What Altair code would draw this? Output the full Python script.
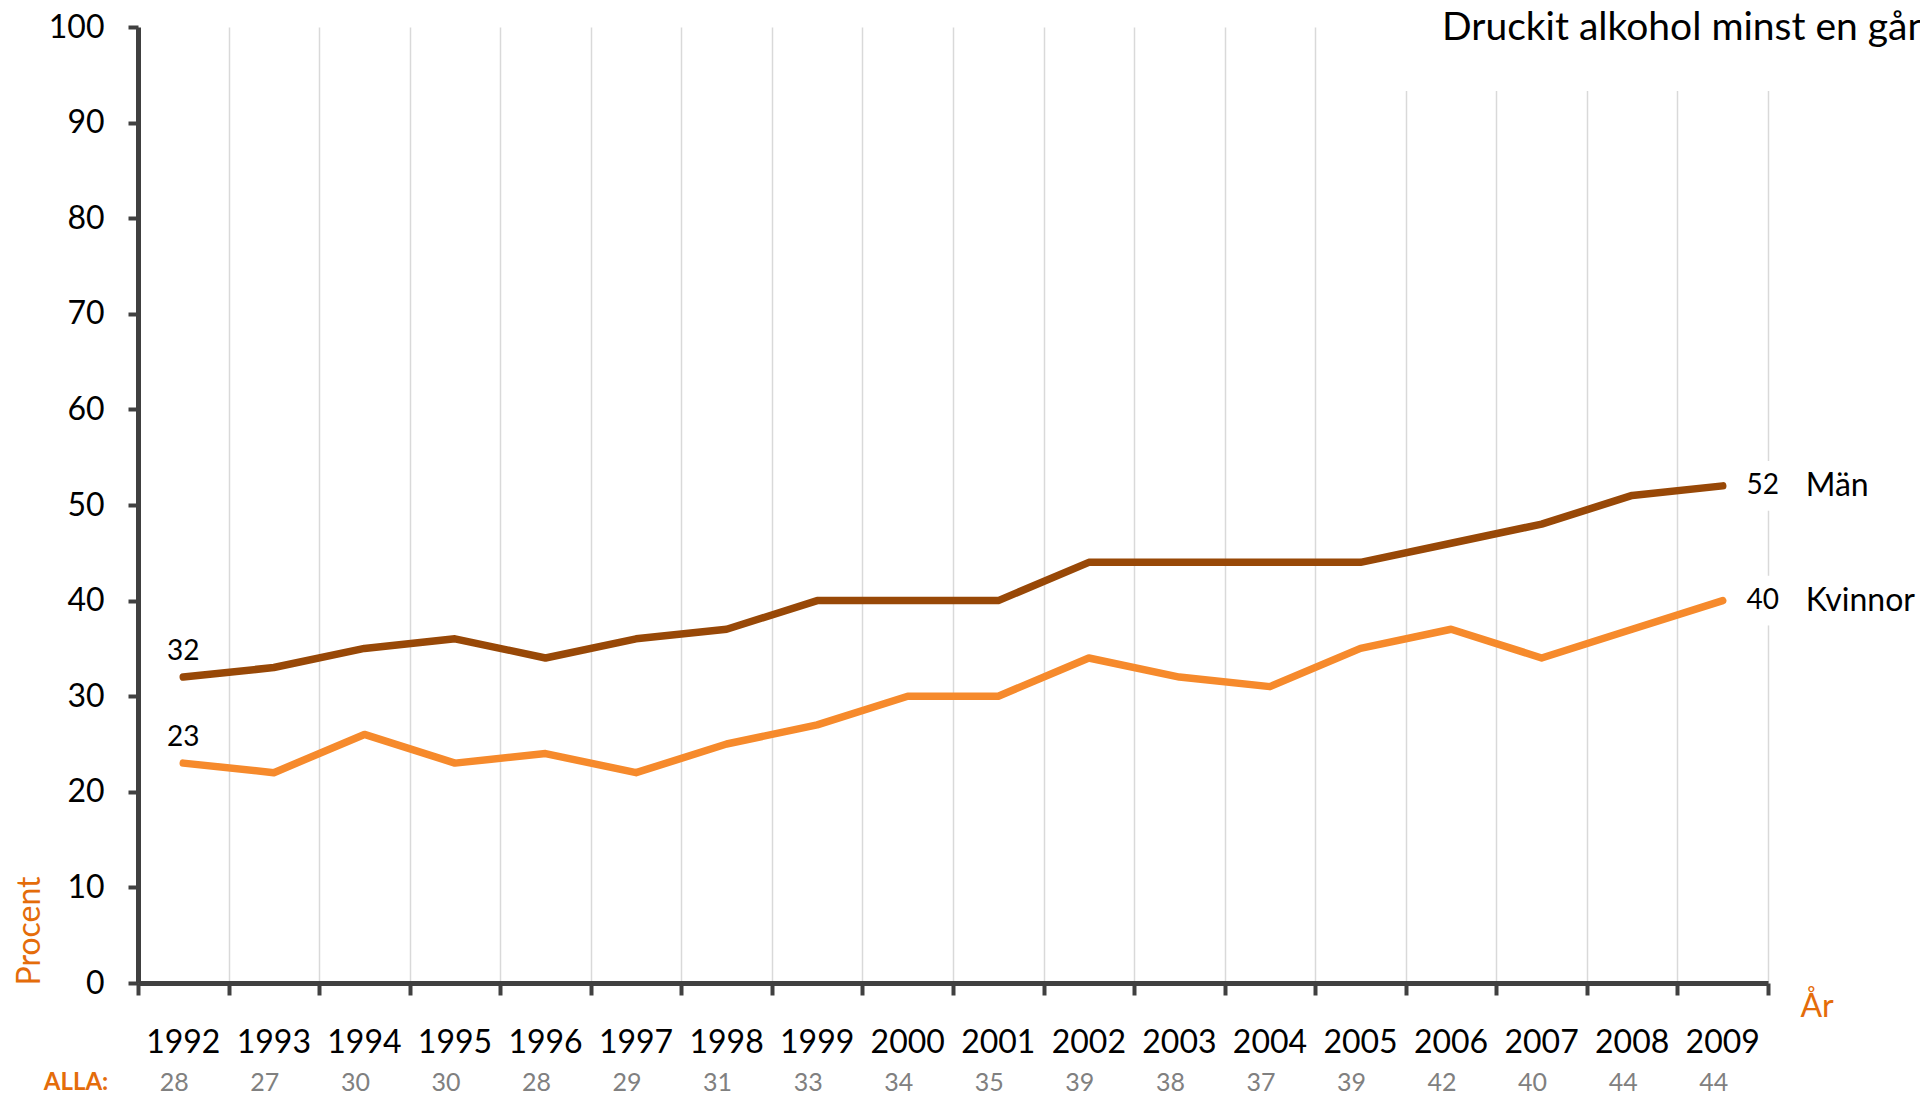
import altair as alt
import pandas as pd

# ---- data ----
years = list(range(1992, 2010))
man = [32, 33, 35, 36, 34, 36, 37, 40, 40, 40, 44, 44, 44, 44, 46, 48, 51, 52]
kvinnor = [23, 22, 26, 23, 24, 22, 25, 27, 30, 30, 34, 32, 31, 35, 37, 34, 37, 40]
alla = [28, 27, 30, 30, 28, 29, 31, 33, 34, 35, 39, 38, 37, 39, 42, 40, 44, 44]
series_names = ["Män", "Kvinnor"]
series_colors = ["#984807", "#F68A2C"]
title_text = "Druckit alkohol minst en gång"
y_ticks = list(range(0, 101, 10))

rows = []
for name, vals in zip(series_names, [man, kvinnor]):
    for i, (yr, v) in enumerate(zip(years, vals)):
        rows.append({"year": yr, "value": v, "series": name,
                     "pos": "first" if i == 0 else ("last" if i == len(years) - 1 else "mid")})
df = pd.DataFrame(rows)
year_df = pd.DataFrame({"year": years, "label": [str(y) for y in years],
                        "alla": [str(a) for a in alla]})

FONT = "Lato"
AXC = "#404040"
ORANGE = "#E46C0A"

xscale = alt.Scale(domain=[years[0] - 0.5, years[-1] + 0.5], nice=False, zero=False)
yscale = alt.Scale(domain=[0, 100], nice=False, zero=True)
boundaries = [y - 0.5 for y in years] + [years[-1] + 0.5]

x_enc = alt.X("year:Q", scale=xscale)
y_enc = alt.Y("value:Q", scale=yscale)

lines = alt.Chart(df).mark_line(strokeWidth=7.5, strokeCap="round", strokeJoin="round").encode(
    x=alt.X("year:Q", scale=xscale,
            axis=alt.Axis(values=boundaries, labels=False, title=None, tickSize=12,
                          tickWidth=4, tickColor=AXC, domainColor=AXC, domainWidth=5,
                          grid=True, gridColor="#D9D9D9", gridWidth=1.5)),
    y=alt.Y("value:Q", scale=yscale,
            axis=alt.Axis(values=y_ticks, title=None, grid=False, tickSize=10, tickWidth=4,
                          tickColor=AXC, domainColor=AXC, domainWidth=5, labelFont=FONT,
                          labelFontSize=32, labelColor="black", labelPadding=24)),
    color=alt.Color("series:N", scale=alt.Scale(domain=series_names, range=series_colors),
                    legend=None),
)

last_df = df[df["pos"] == "last"]
first_df = df[df["pos"] == "first"]

# white gaps behind the end labels on the last gridline
end_mask = alt.Chart(last_df).transform_calculate(
    xb="datum.year + 0.5", y1="datum.value - 2.6", y2v="datum.value + 2.6"
).mark_rule(color="white", strokeWidth=6).encode(
    x=alt.X("xb:Q", scale=xscale), y=alt.Y("y1:Q", scale=yscale), y2="y2v:Q"
)

# white box behind the title
title_box = alt.Chart(pd.DataFrame({"a": [0]})).mark_rect(color="white").encode(
    x=alt.value(1184), x2=alt.value(1790), y=alt.value(-20), y2=alt.value(64)
)

first_labels = alt.Chart(first_df).mark_text(font=FONT, fontSize=28, color="black",
                                             dy=-25).encode(x=x_enc, y=y_enc, text="value:Q")
last_labels = alt.Chart(last_df).mark_text(font=FONT, fontSize=28, color="black",
                                           dx=40).encode(x=x_enc, y=y_enc, text="value:Q")
names = alt.Chart(last_df).mark_text(font=FONT, fontSize=32, color="black", align="left",
                                     dx=83).encode(x=x_enc, y=y_enc, text="series:N")

year_labels = alt.Chart(year_df).mark_text(font=FONT, fontSize=32, color="black",
                                           baseline="middle").encode(
    x=x_enc, y=alt.value(1016), text="label:N")
alla_labels = alt.Chart(year_df).mark_text(font=FONT, fontSize=25, color="#808080",
                                           baseline="middle", dx=-9).encode(
    x=x_enc, y=alt.value(1056), text="alla:N")

ann = pd.DataFrame({"t": ["ALLA:"]})
alla_title = alt.Chart(ann).mark_text(font=FONT, fontSize=24, fontWeight="bold", color=ORANGE,
                                      baseline="middle").encode(
    x=alt.value(-62), y=alt.value(1056), text="t:N")
procent = alt.Chart(pd.DataFrame({"t": ["Procent"]})).mark_text(
    font=FONT, fontSize=32, color=ORANGE, angle=270, baseline="middle").encode(
    x=alt.value(-108), y=alt.value(904), text="t:N")
ar = alt.Chart(pd.DataFrame({"t": ["År"]})).mark_text(
    font=FONT, fontSize=32, color=ORANGE, baseline="middle").encode(
    x=alt.value(1679), y=alt.value(980), text="t:N")
title = alt.Chart(pd.DataFrame({"t": [title_text]})).mark_text(
    font=FONT, fontSize=39, color="black", align="left", baseline="middle").encode(
    x=alt.value(1304), y=alt.value(1), text="t:N")

chart = alt.layer(
    lines, end_mask, title_box, first_labels, last_labels, names,
    year_labels, alla_labels, alla_title, procent, ar, title
).properties(
    width=1630, height=956,
    autosize=alt.AutoSizeParams(type="none"),
    padding={"left": 130, "top": 19, "right": 152, "bottom": 113},
    background="white",
).configure_view(stroke=None)

chart.save("out.html", embed_options={"renderer": "svg", "actions": False})
